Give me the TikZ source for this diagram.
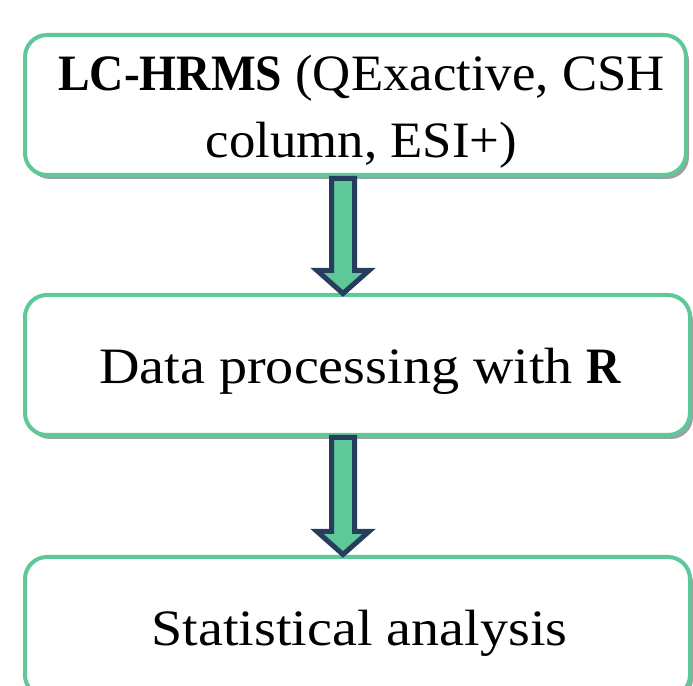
\documentclass[tikz,border=0pt]{standalone}
\usepackage{fontspec}
\setmainfont[FakeStretch=1.1, BoldFeatures={FakeStretch=0.93}]{Liberation Serif}
\newfontfamily\firststagefont[FakeStretch=1.035, BoldFeatures={FakeStretch=0.93}]{Liberation Serif}
\usetikzlibrary{shadows,calc}
\definecolor{boxgreen}{RGB}{94,200,152}
\definecolor{arrownavy}{RGB}{38,61,94}
\definecolor{shadowgray}{RGB}{160,160,160}

% block arrow from the top centre of its shaft (#1) down to its tip (#2)
\newcommand\blockarrow[2]{%
  \draw[flowarrow] let \p1=(#1), \p2=(#2) in
    (\x1-11.5pt,\y1) -- (\x1+11.5pt,\y1) -- (\x1+11.5pt,\y2+23pt)
    -- (\x1+26pt,\y2+23pt) -- (\x2,\y2) -- (\x1-26pt,\y2+23pt)
    -- (\x1-11.5pt,\y2+23pt) -- cycle;}

\begin{document}
\begin{tikzpicture}[x=1pt,y=1pt,
  stage/.style={draw=boxgreen, line width=4pt, fill=white,
    rounded corners=22pt, minimum height=140pt, inner sep=0pt,
    drop shadow={shadow xshift=3pt, shadow yshift=-4pt,
      fill=shadowgray, opacity=1}},
  stagetext/.style={align=center, inner sep=0pt,
    font=\fontsize{51}{67}\selectfont},
  flowarrow/.style={draw=arrownavy, fill=boxgreen, line width=5pt,
    line join=miter}]
\useasboundingbox (0,0) rectangle (693,685);
\clip (0,0) rectangle (693,685);

% the three stages
\node[stage, minimum width=661pt] (s1) at (355.5,580) {};
\node[stage, minimum width=665pt] (s2) at (357.5,320) {};
\node[stage, minimum width=665pt] (s3) at (357.5,58) {};

\node[stagetext, font=\fontsize{51}{67}\firststagefont] (t1)
  at ($(s1.center)+(6,-7)$)
  {\textbf{LC-HRMS} (QExactive, CSH\\column, ESI+)};
\node[stagetext] (t2) at ($(s2.center)+(3,-6.5)$)
  {Data processing with \textbf{R}};
\node[stagetext] (t3) at ($(s3.center)+(2,-6)$)
  {Statistical analysis};

% arrows between the stages
\coordinate (a1s) at ($(s1.south)+(-12.5,-1.5)$);
\coordinate (a1t) at ($(s2.north)+(-14.5,-0.5)$);
\coordinate (a2s) at ($(s2.south)+(-14.5,-0.5)$);
\coordinate (a2t) at ($(s3.north)+(-14.5,0.5)$);
\blockarrow{a1s}{a1t}
\blockarrow{a2s}{a2t}
\end{tikzpicture}
\end{document}
